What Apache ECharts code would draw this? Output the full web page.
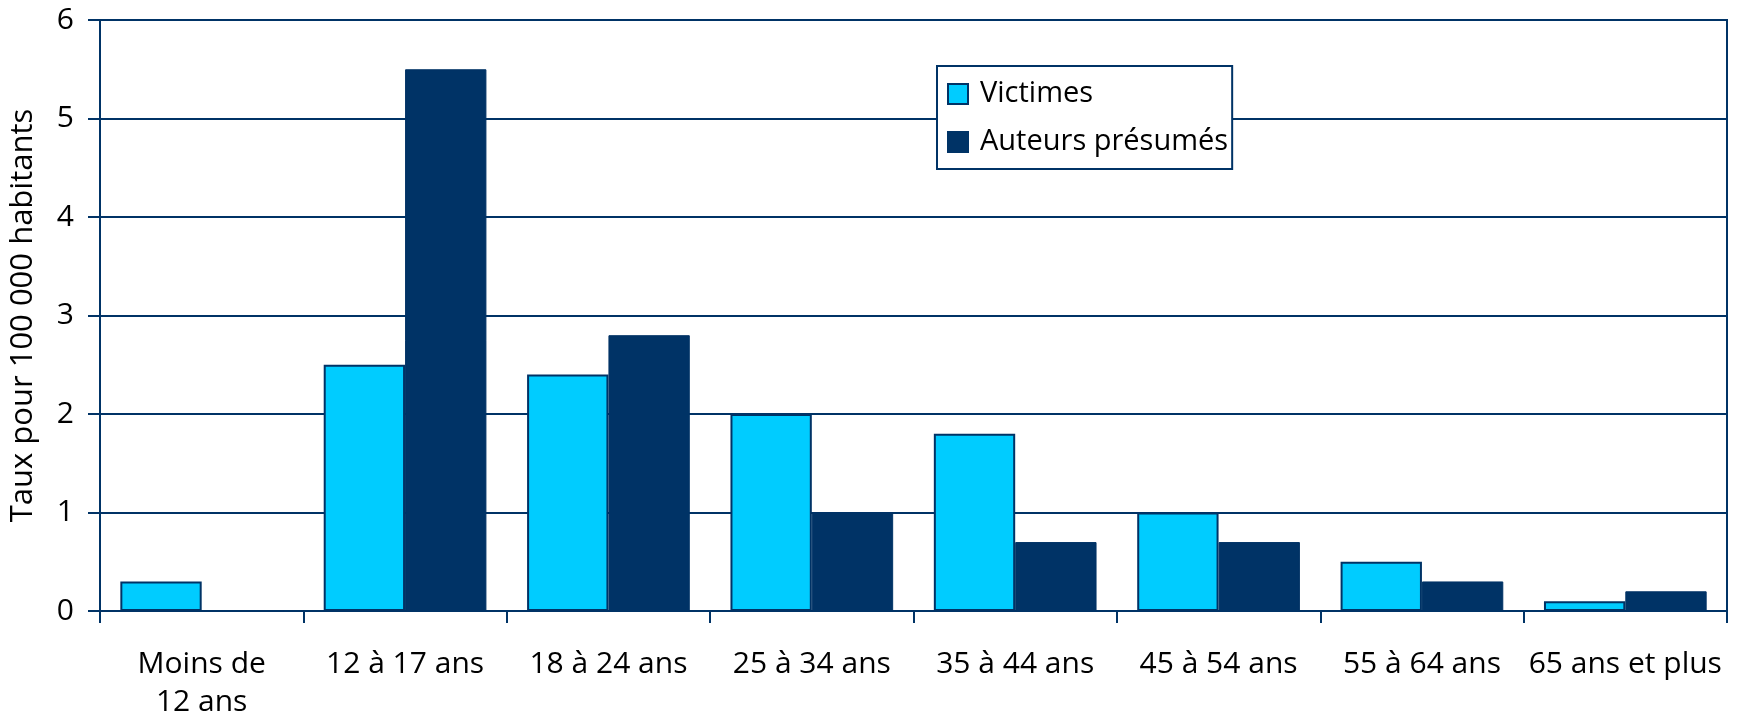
<!DOCTYPE html>
<html>
<head>
    <meta charset="utf-8">
    <title>Taux pour 100 000 habitants</title>
    <script src="https://cdn.jsdelivr.net/npm/echarts@6/dist/echarts.min.js"></script>
    <style>
        html, body { margin: 0; padding: 0; background: #fff; }
        #chart1 { width: 1737px; height: 721px; }
    </style>
</head>
<body>
<div id="chart1"></div>
<script type="text/javascript">
    // données
    var ageGroups = ['Moins de\n12 ans', '12 à 17 ans', '18 à 24 ans', '25 à 34 ans',
        '35 à 44 ans', '45 à 54 ans', '55 à 64 ans', '65 ans et plus'];
    var victimes = [0.3, 2.5, 2.4, 2.0, 1.8, 1.0, 0.5, 0.1];
    var auteurs = [0, 5.5, 2.8, 1.0, 0.7, 0.7, 0.3, 0.2];
    var yTicks = [0, 1, 2, 3, 4, 5, 6];

    var navy = '#003366';
    var font = '"Open Sans", "Noto Sans", sans-serif';

    var myChart1 = echarts.init(document.getElementById('chart1'));

    myChart1.setOption({
        animation: false,
        textStyle: { fontFamily: font },
        grid: {
            left: 100, right: 10, top: 20, bottom: 110,
            outerBoundsMode: 'none',
            containLabel: false,
            show: true, borderColor: navy, borderWidth: 2, backgroundColor: 'transparent'
        },
        legend: {
            data: ['Victimes', 'Auteurs présumés'],
            orient: 'vertical',
            left: 937, top: 66,
            backgroundColor: '#fff',
            borderColor: navy, borderWidth: 2,
            padding: [13, 4, 12, 10],
            icon: 'rect',
            itemWidth: 20, itemHeight: 20, itemGap: 18,
            textStyle: { fontSize: 29, lineHeight: 30, color: '#000', fontFamily: font, padding: [0, 0, 0, 7] }
        },
        xAxis: {
            type: 'category',
            data: ageGroups,
            axisLine: { lineStyle: { color: navy, width: 2 } },
            axisTick: { show: true, length: 12, lineStyle: { color: navy, width: 2 } },
            axisLabel: { fontSize: 30, color: '#000', margin: 34, lineHeight: 38, interval: 0 }
        },
        yAxis: {
            type: 'value',
            min: yTicks[0], max: yTicks[yTicks.length - 1], interval: 1,
            name: 'Taux pour 100 000 habitants',
            nameLocation: 'middle', nameGap: 61,
            nameTextStyle: { fontSize: 31, color: '#000' },
            axisLine: { show: true, lineStyle: { color: navy, width: 2 } },
            axisTick: { show: true, length: 12, lineStyle: { color: navy, width: 2 } },
            axisLabel: { fontSize: 30, color: '#000', margin: 26 },
            splitLine: { lineStyle: { color: navy, width: 2 } }
        },
        series: [{
            name: 'Victimes',
            type: 'bar',
            data: victimes,
            barGap: '0%',
            barCategoryGap: '20%',
            itemStyle: { color: '#00ccff', borderColor: navy, borderWidth: 2 }
        }, {
            name: 'Auteurs présumés',
            type: 'bar',
            data: auteurs,
            itemStyle: { color: navy, borderColor: navy, borderWidth: 1 }
        }]
    });
</script>
</body>
</html>
